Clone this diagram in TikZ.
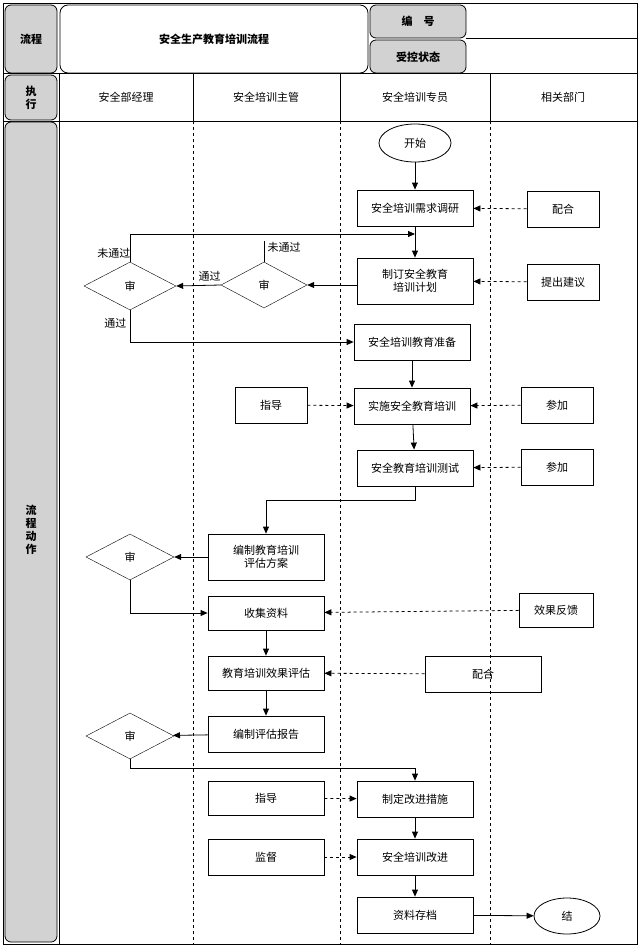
\documentclass[tikz,border=0pt]{standalone}
\usepackage{fontspec}
\setmainfont{Noto Sans CJK SC}
\usetikzlibrary{calc,arrows.meta,shapes.geometric}

\begin{document}
\begin{tikzpicture}[x=1pt,y=-1pt,>={Triangle[length=7pt,width=6pt]},
    font=\fontsize{11}{13}\selectfont,
    box/.style={draw,thick,minimum width=116pt,minimum height=36pt,align=center,inner sep=1pt},
    sbox/.style={draw,thick,minimum width=72pt,minimum height=36pt},
    gbox/.style={draw,thick,rounded corners=6pt,fill=gray!35},
    dec/.style={draw,diamond,aspect=1.9,minimum width=88pt,minimum height=46pt,inner sep=0pt},
    flow/.style={->,thick},
    help/.style={->,thick,dashed}]
  \useasboundingbox (0,0) rectangle (640,947);
  \draw[thick] (3,3) rectangle (637,944);

  % header
  \draw[gbox] (5,5) rectangle (57,73);
  \node at (31,39) {\textbf{流}\\[4pt]\textbf{程}};
  \node[align=center] (lc) at (31,39) {};
  \draw[thick,rounded corners=8pt] (60,5) rectangle (368,73);
  \node (title) at (214,39) {\textbf{安全生产教育培训流程}};
  \draw[gbox] (370,5) rectangle (466,38);
  \node (bh) at (418,21) {\textbf{编\quad 号}};
  \draw[gbox] (370,40) rectangle (466,73);
  \node (sk) at (418,57) {\textbf{受控状态}};
  \draw[thick] (466,38.5) -- (637,38.5) (3,73.5) -- (637,73.5) (3,121) -- (637,121);

  \draw[gbox] (5,75) rectangle (57,120);
  \node[align=center] (zx) at (31,98) {\textbf{执}\\\textbf{行}};
  \node (c1) at (126,97) {安全部经理};
  \node (c2) at (266,97) {安全培训主管};
  \node (c3) at (415,97) {安全培训专员};
  \node (c4) at (563,97) {相关部门};
  \foreach \x in {193,340,490}{
    \draw[thick] (\x,73.5) -- (\x,121);
    \draw[dashed] (\x,121) -- (\x,944);
  }
  \draw[thick] (59,73.5) -- (59,944);

  \draw[gbox] (5,122) rectangle (57,942);
  \node[align=center] (ld) at (31,530) {\textbf{流}\\\textbf{程}\\\textbf{动}\\\textbf{作}};

  % nodes
  \node[draw,thick,ellipse,minimum width=72pt,minimum height=38pt] (start) at (415,143) {开始};
  \node[box] (n1) at (415,208) {安全培训需求调研};
  \node[sbox] (ph1) at (563,209) {配合};
  \node[box,minimum height=46pt] (n2) at (415,281) {制订安全教育\\培训计划};
  \node[sbox] (jy) at (563,282) {提出建议};
  \node[dec,minimum width=86pt] (d2) at (264,285) {审};
  \node[dec,minimum width=92pt,minimum height=48pt] (d1) at (130,286) {审};
  \node[box] (n3) at (412,342) {安全培训教育准备};
  \node[sbox] (zd1) at (271,405) {指导};
  \node[box] (n4) at (412,406) {实施安全教育培训};
  \node[sbox] (cj1) at (557,405) {参加};
  \node[box] (n5) at (415,468) {安全教育培训测试};
  \node[sbox] (cj2) at (557,467) {参加};
  \node[box,minimum height=46pt] (n6) at (266,557) {编制教育培训\\评估方案};
  \node[dec] (d3) at (130,557) {审};
  \node[box,minimum height=34pt] (n7) at (266,613) {收集资料};
  \node[sbox,minimum width=74pt,minimum height=34pt] (fk) at (556,610) {效果反馈};
  \node[box,minimum height=34pt] (n8) at (266,673) {教育培训效果评估};
  \node[box] (ph2) at (483,674) {配合};
  \node[dec] (d4) at (130,736) {审};
  \node[box] (n9) at (266,734) {编制评估报告};
  \node[box,minimum height=34pt] (zd2) at (266,798) {指导};
  \node[box] (n10) at (415,799) {制定改进措施};
  \node[box] (jd) at (266,857) {监督};
  \node[box] (n11) at (415,857) {安全培训改进};
  \node[box] (n12) at (415,915) {资料存档};
  \node[draw,thick,ellipse,minimum width=66pt,minimum height=36pt] (end) at (567,916) {结};

  % connectors
  \draw[flow] (start) -- (n1);
  \draw[flow] (n1) -- (n2);
  \draw[help] (ph1) -- (n1);
  \draw[help] (jy) -- (n2);
  \draw[flow] (n2.west |- d2.east) -- (d2.east);
  \draw[flow] (d2.west) -- (d1.east) node[pos=0.25,above] {通过};
  \draw[thick] (d2.north) -- ++(0,-21) node[right,pos=0.7] {未通过};
  \coordinate (back) at (n1.south |- 0,234);
  \draw[flow] (d1.north) -- (d1.north |- back) -- (back) node[at start,left=-2pt,yshift=-4pt] {};
  \node[left] (wtg) at (d1.north) [yshift=8pt,xshift=4pt] {未通过};
  \draw[flow] (d1.south) |- (n3.west) node[pos=0.2,left] {通过};
  \draw[flow] (n3) -- (n4);
  \draw[help] (zd1) -- (n4);
  \draw[help] (cj1) -- (n4);
  \draw[flow] (n4) -- (n5);
  \draw[help] (cj2) -- (n5);
  \draw[flow] (n5.south) -- ++(0,14) -| (n6.north);
  \draw[flow] (n6) -- (d3);
  \draw[flow] (d3.south) |- (n7.west);
  \draw[flow] (n7) -- (n8);
  \draw[help] (fk) -- (n7);
  \draw[help] (ph2) -- (n8);
  \draw[flow] (n8) -- (n9);
  \draw[flow] (n9) -- (d4);
  \draw[flow] (d4.south) -- ++(0,9) -| (n10.north);
  \draw[help] (zd2) -- (n10);
  \draw[flow] (n10) -- (n11);
  \draw[help] (jd) -- (n11);
  \draw[flow] (n11) -- (n12);
  \draw[flow] (n12) -- (end);
\end{tikzpicture}
\end{document}
